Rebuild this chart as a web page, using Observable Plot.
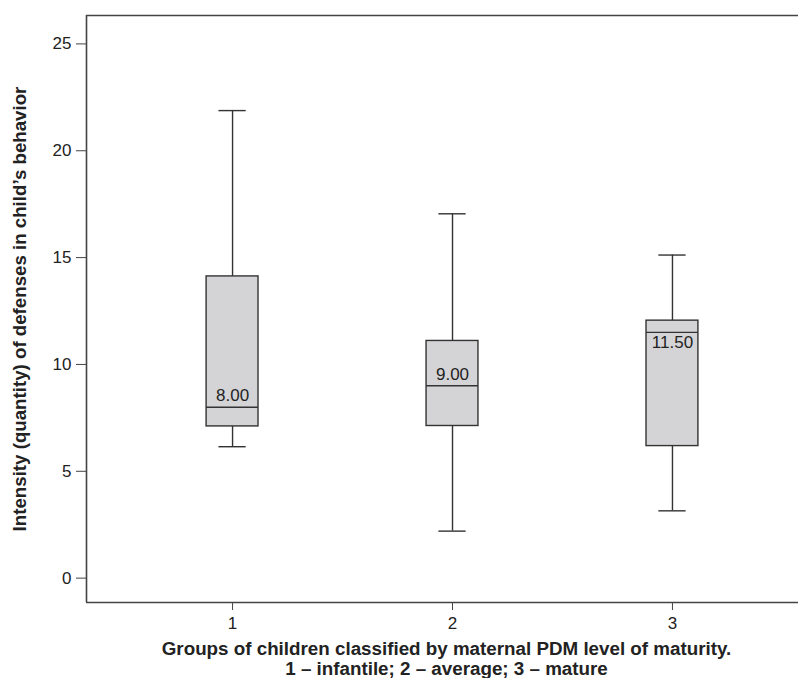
<!DOCTYPE html>
<html><head><meta charset="utf-8">
<script src="https://cdn.jsdelivr.net/npm/d3@7"></script>
<script src="https://cdn.jsdelivr.net/npm/@observablehq/plot@0.6"></script>
<style>body{margin:0;background:#fff} #chart svg{display:block}</style>
</head><body><div id="chart"></div>
<script>
const groups = [1, 2, 3];
const whiskerLow = [6.15, 2.2, 3.15];
const q1 = [7.1, 7.12, 6.18];
const medians = [8.0, 9.0, 11.5];
const q3 = [14.12, 11.1, 12.05];
const whiskerHigh = [21.88, 17.05, 15.12];
const medianLabels = ["8.00", "9.00", "11.50"];
const yTicks = [0, 5, 10, 15, 20, 25];
const xTicks = [1, 2, 3];
const yTitle = "Intensity (quantity) of defenses in child\u2019s behavior";
const xTitle = "Groups of children classified by maternal PDM level of maturity.\n1 \u2013 infantile; 2 \u2013 average; 3 \u2013 mature";

const data = groups.map((g, i) => ({g, lo: whiskerLow[i], q1: q1[i], med: medians[i], q3: q3[i], hi: whiskerHigh[i], label: medianLabels[i]}));
const boxHalf = 0.118, capHalf = 0.062;
const xDomain = [0.336, 3.573], yDomain = [-1.14, 26.33];
const ink = "#333", frameInk = "#444";
const above = d => d.q3 - d.med >= 1.5;

const chart = Plot.plot({
  width: 808, height: 678,
  marginLeft: 86, marginRight: 10, marginTop: 15, marginBottom: 76,
  style: {fontFamily: "'Liberation Sans', Arial, Helvetica, sans-serif", fontSize: "17px", color: "#222", background: "#fff"},
  x: {type: "linear", domain: xDomain},
  y: {type: "linear", domain: yDomain},
  marks: [
    Plot.ruleX(data, {x: "g", y1: "lo", y2: "q1", stroke: ink, strokeWidth: 1.4}),
    Plot.ruleX(data, {x: "g", y1: "q3", y2: "hi", stroke: ink, strokeWidth: 1.4}),
    Plot.ruleY(data, {y: "lo", x1: d => d.g - capHalf, x2: d => d.g + capHalf, stroke: ink, strokeWidth: 1.4}),
    Plot.ruleY(data, {y: "hi", x1: d => d.g - capHalf, x2: d => d.g + capHalf, stroke: ink, strokeWidth: 1.4}),
    Plot.rect(data, {x1: d => d.g - boxHalf, x2: d => d.g + boxHalf, y1: "q1", y2: "q3", fill: "#d4d4d6", stroke: ink, strokeWidth: 1.4}),
    Plot.ruleY(data, {y: "med", x1: d => d.g - boxHalf, x2: d => d.g + boxHalf, stroke: ink, strokeWidth: 1.4}),
    Plot.text(data.filter(above), {x: "g", y: "med", text: "label", lineAnchor: "bottom", dy: -6, fill: "#222", fontSize: 17}),
    Plot.text(data.filter(d => !above(d)), {x: "g", y: "med", text: "label", lineAnchor: "top", dy: 4, fill: "#222", fontSize: 17}),
    Plot.ruleX([xDomain[0]], {stroke: frameInk, strokeWidth: 1.6}),
    Plot.ruleY(yDomain, {stroke: frameInk, strokeWidth: 1.6}),
    Plot.axisY(yTicks, {tickSize: 10, text: null, label: null, stroke: frameInk}),
    Plot.text(yTicks, {y: d => d, text: d => String(d), frameAnchor: "left", textAnchor: "end", dx: -15, fontSize: 17, fill: "#222"}),
    Plot.axisX(xTicks, {tickSize: 8, text: null, label: null, stroke: frameInk}),
    Plot.text(xTicks, {x: d => d, text: d => String(d), frameAnchor: "bottom", lineAnchor: "top", dy: 14, fontSize: 17, fill: "#222"}),
    Plot.text([yTitle], {frameAnchor: "left", textAnchor: "middle", rotate: -90, dx: -66, fontWeight: "bold", fontSize: 18.7, fill: "#222"}),
    Plot.text([xTitle], {frameAnchor: "bottom", lineAnchor: "top", dx: 4, dy: 39, lineHeight: 1.03, fontWeight: "bold", fontSize: 18.8, fill: "#222"})
  ]
});
document.getElementById("chart").appendChild(chart);
</script>
</body></html>
